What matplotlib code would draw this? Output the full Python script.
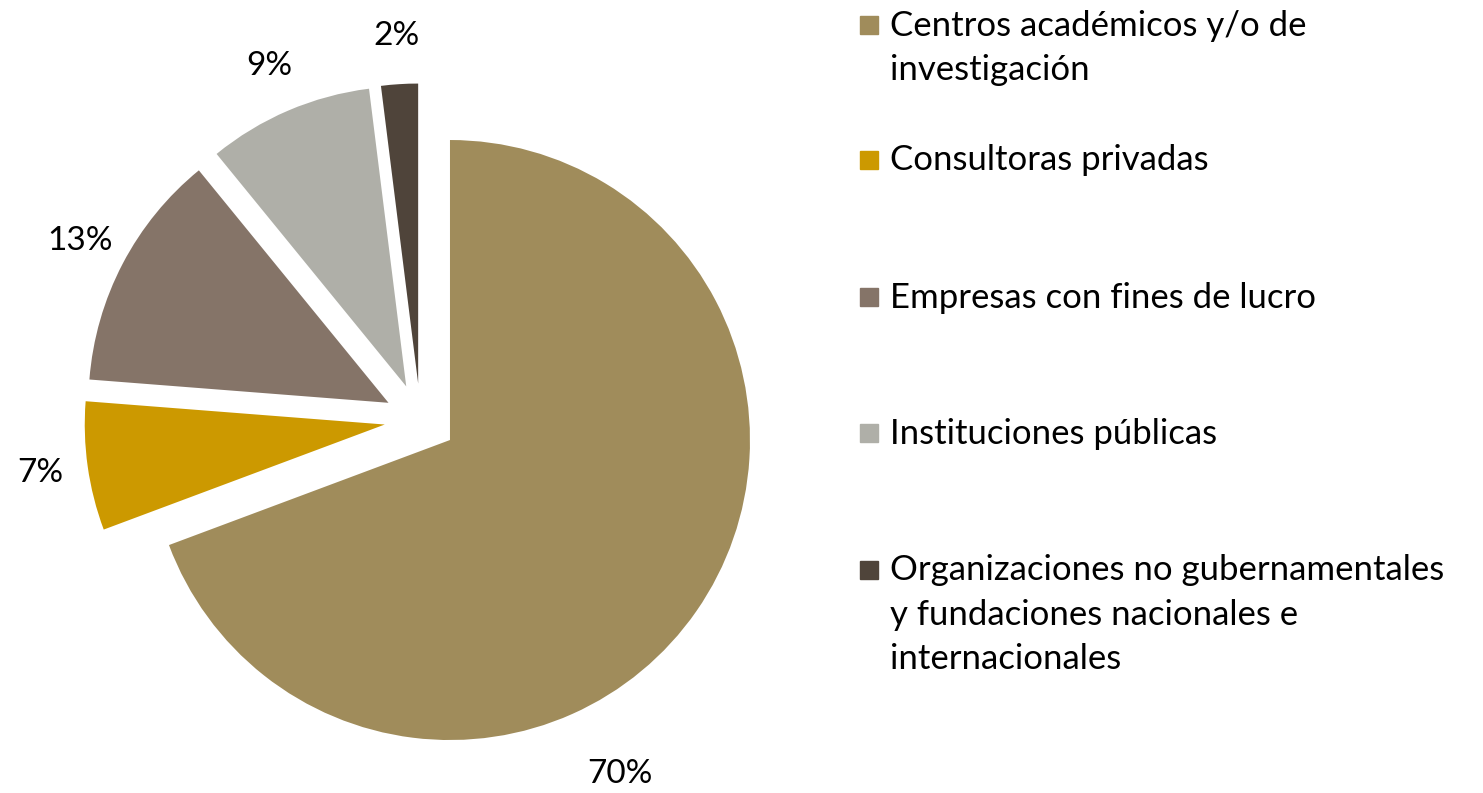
import numpy as np
import matplotlib.pyplot as plt
import matplotlib.patches as mpatches

plt.rcParams['font.family'] = ['Lato', 'DejaVu Sans']

categorias = ['Centros académicos y/o de\ninvestigación',
              'Consultoras privadas',
              'Empresas con fines de lucro',
              'Instituciones públicas',
              'Organizaciones no gubernamentales\ny fundaciones nacionales e\ninternacionales']
valores = [70, 7, 13, 9, 2]
colores = ['#A08C5B', '#CC9900', '#857468', '#AFAFA8', '#4F443A']

W, H = 1483, 793
fig = plt.figure(figsize=(W / 100, H / 100), dpi=100)
ax = fig.add_axes([0, 0, 1, 1])

r = 300
cx, cy = 420.4, 373.5
etiquetas = ['%d%%' % v for v in valores]
wedges, texts = ax.pie(valores, colors=colores, startangle=90, counterclock=False,
                       radius=r, center=(cx, cy), explode=[0.12 * r] * 5,
                       labels=etiquetas, labeldistance=1.16,
                       textprops=dict(fontsize=24, color='black', ha='center', va='center'))

# etiqueta del 70% va abajo, no en el ángulo medio
w = wedges[0]
ang = np.deg2rad(-63)
x0, y0 = w.center
texts[0].set_position((x0 + 1.25 * r * np.cos(ang), y0 + 1.25 * r * np.sin(ang)))

ax.set_xlim(0, W)
ax.set_ylim(0, H)
ax.set_aspect('equal')
ax.axis('off')

# leyenda
ys = [25, 160, 297, 433, 570]
for lab, col, y in zip(categorias, colores, ys):
    fig.patches.append(mpatches.Rectangle(((860) / W, 1 - (y + 9) / H), 18 / W, 18 / H,
                                          transform=fig.transFigure, color=col))
    fig.text(890 / W, 1 - (y - 15.5) / H, lab, fontsize=25, va='top', ha='left',
             linespacing=1.47)

fig.savefig('out.png', dpi=100)
